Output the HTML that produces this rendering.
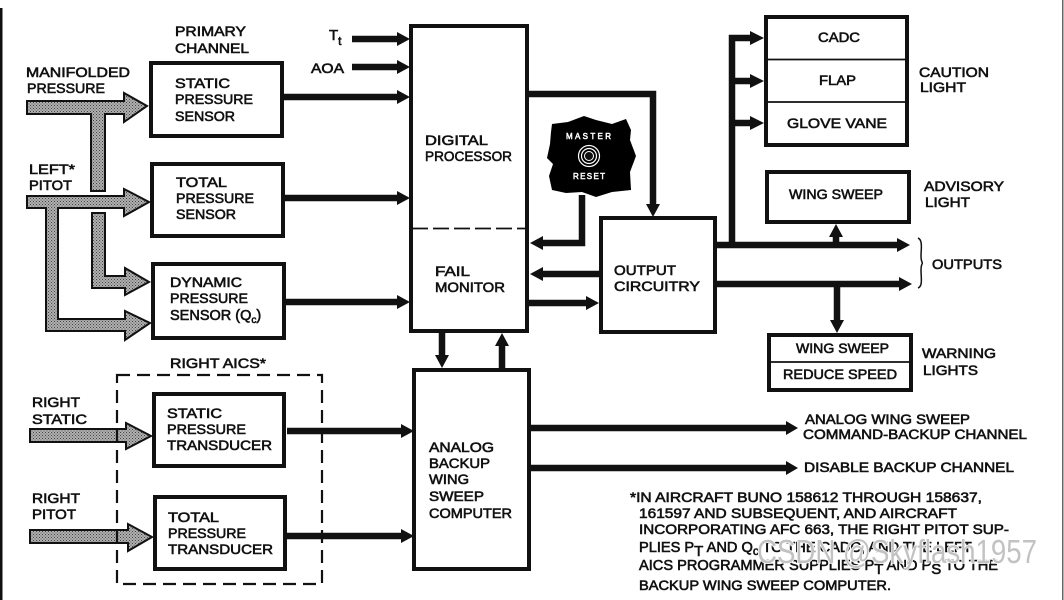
<!DOCTYPE html>
<html><head><meta charset="utf-8"><style>
html,body{margin:0;padding:0;background:#fff;width:1064px;height:600px;overflow:hidden}
svg{display:block}
text{font-family:"Liberation Sans",sans-serif;font-size:14px;fill:#111;stroke:#111;stroke-width:.6px}
.s{font-size:9px;stroke-width:.5px}
.w{font-family:"Liberation Sans","Noto Sans CJK SC",sans-serif;font-size:33px;fill:#c2c2c2;stroke:none;font-weight:400}
</style></head><body>
<svg width="1064" height="600" viewBox="0 0 1064 600" xmlns="http://www.w3.org/2000/svg">
<defs>
<pattern id="h" width="3" height="3" patternUnits="userSpaceOnUse">
<rect width="3" height="3" fill="#b0b0b0"/><rect width="1" height="1" fill="#444"/><rect x="1.5" y="1.5" width="1" height="1" fill="#555"/>
</pattern>
</defs>
<rect width="1064" height="600" fill="#fff"/>
<rect x="0" y="8" width="2.5" height="592" fill="#111"/>
<rect x="1062" y="0" width="1.5" height="600" fill="#666"/>

<!-- hatched arrows -->
<g fill="url(#h)" stroke="#111" stroke-width="2">
<path d="M27 101H124V93L147 106L124 122V114H105V191H91V114H27Z"/>
<path d="M92 213H105V276H125V268L149 282L125 295V288H92Z"/>
<path d="M27 196H124V189L149 202L124 216V208H58V319H125V311L150 323L125 340V331H46V208H27Z"/>
<path d="M30 429H126V423L151 436L126 449V442H30Z"/>
<path d="M30 530H128V524L152 537L128 551V543H30Z"/>
</g>

<!-- dashed box -->
<rect x="117" y="375" width="205" height="209" fill="none" stroke="#111" stroke-width="2.2" stroke-dasharray="13 7"/>

<!-- connectors -->
<g stroke="#111" stroke-width="6.500" fill="none">
<path d="M352 39H400M352 67H400M283 97H400M284 198H400M285 302H400"/>
<path d="M287 431H404M287 536H404"/>
<path d="M528 94H653V206"/>
<path d="M582 195V243H538"/>
<path d="M599 274H538M529 303H590"/>
<path d="M442 333V358M502 345V368"/>
<path d="M716 245H900M716 284H902"/>
<path d="M732 245V38H754M732 81H754M732 123H754"/>
<path d="M836 245V233M837 284V322"/>
<path d="M530 428H788M530 468H788"/>
</g>
<g fill="#111">
<path d="M397 32L410 39L397 46ZM397 60L410 67L397 74ZM397 90L410 97L397 104ZM397 191L410 198L397 205ZM397 295L410 302L397 309Z"/>
<path d="M401 424L414 431L401 438ZM401 529L414 536L401 543Z"/>
<path d="M646 204H660L653 217Z"/>
<path d="M543 236L530 243L543 250ZM543 267L530 274L543 281Z"/>
<path d="M586 296L599 303L586 310Z"/>
<path d="M435 355H449L442 368ZM495 346H509L502 333Z"/>
<path d="M897 238L910 245L897 252ZM899 277L912 284L899 291Z"/>
<path d="M750 31L764 38L750 45ZM750 74L764 81L750 88ZM750 116L764 123L750 130Z"/>
<path d="M829 237H843L836 224ZM830 320H844L837 333Z"/>
<path d="M786 421L798 428L786 435ZM786 461L798 468L786 475Z"/>
</g>

<!-- boxes -->
<g fill="#fff" stroke="#111" stroke-width="4">
<rect x="151" y="63" width="131" height="73"/>
<rect x="152" y="164" width="131" height="72"/>
<rect x="153" y="264" width="131" height="74"/>
<rect x="154" y="394" width="130" height="72"/>
<rect x="155" y="497" width="130" height="72"/>
<rect x="411" y="26" width="116" height="305"/>
<rect x="601" y="218" width="114" height="114"/>
<rect x="414" y="370" width="115" height="199"/>
<rect x="766" y="17" width="141" height="128"/>
<rect x="767" y="172" width="142" height="50"/>
<rect x="769" y="335" width="142" height="55"/>
</g>
<path d="M412 228.500H526" stroke="#111" stroke-width="1.800" stroke-dasharray="16 5" fill="none"/>
<path d="M767 59.500H906M767 102H906M770 362H910" stroke="#111" stroke-width="1.800" fill="none"/>
<path d="M918 238C923 240 921 250 921 256C921 260 922 263 923 263C922 263 921 266 921 270C921 278 923 286 918 288" stroke="#111" stroke-width="1.500" fill="none"/>

<!-- master reset -->
<path d="M552 124L568 122L584 116L596 120L612 124L626 119L631 130L630 140L636 156L630 172L631 190L612 192L596 197L582 192L566 193L552 190L549 176L553 164L547 158L550 144L551 132Z" fill="#000"/>
<circle cx="589" cy="156" r="10.500" fill="none" stroke="#fff" stroke-width="1.200"/>
<circle cx="589" cy="156" r="7.500" fill="none" stroke="#fff" stroke-width="1.200"/>
<circle cx="589" cy="156" r="4.500" fill="#111" stroke="#fff" stroke-width="1"/>
<text class="s" x="566" y="139" textLength="45" lengthAdjust="spacing" style="fill:#fff;stroke:#fff;font-size:8px">MASTER</text>
<text class="s" x="573" y="179" textLength="32" lengthAdjust="spacing" style="fill:#fff;stroke:#fff;font-size:8px">RESET</text>

<!-- labels -->
<g>
<text x="175" y="36" textLength="71" lengthAdjust="spacingAndGlyphs">PRIMARY</text>
<text x="175" y="53" textLength="74" lengthAdjust="spacingAndGlyphs">CHANNEL</text>
<text x="26" y="77" textLength="104" lengthAdjust="spacingAndGlyphs">MANIFOLDED</text>
<text x="27" y="93" textLength="78" lengthAdjust="spacingAndGlyphs">PRESSURE</text>
<text x="175" y="88" textLength="55" lengthAdjust="spacingAndGlyphs">STATIC</text>
<text x="175" y="104" textLength="78" lengthAdjust="spacingAndGlyphs">PRESSURE</text>
<text x="175" y="121" textLength="60" lengthAdjust="spacingAndGlyphs">SENSOR</text>
<text x="29" y="174" textLength="46" lengthAdjust="spacingAndGlyphs">LEFT*</text>
<text x="29" y="190" textLength="43" lengthAdjust="spacingAndGlyphs">PITOT</text>
<text x="176" y="187" textLength="51" lengthAdjust="spacingAndGlyphs">TOTAL</text>
<text x="176" y="203" textLength="78" lengthAdjust="spacingAndGlyphs">PRESSURE</text>
<text x="176" y="219" textLength="60" lengthAdjust="spacingAndGlyphs">SENSOR</text>
<text x="170" y="287" textLength="72" lengthAdjust="spacingAndGlyphs">DYNAMIC</text>
<text x="170" y="303" textLength="78" lengthAdjust="spacingAndGlyphs">PRESSURE</text>
<text x="170" y="320" style="font-size:14.500px">SENSOR (Q<tspan font-size="10" dy="3">c</tspan><tspan dy="-3">)</tspan></text>
<text x="329" y="40" style="font-size:15px">T<tspan font-size="12" dy="5">t</tspan></text>
<text x="311" y="73" textLength="33" lengthAdjust="spacingAndGlyphs">AOA</text>
<text x="425" y="145" textLength="63" lengthAdjust="spacingAndGlyphs">DIGITAL</text>
<text x="425" y="161" textLength="87" lengthAdjust="spacingAndGlyphs">PROCESSOR</text>
<text x="435" y="276" textLength="35" lengthAdjust="spacingAndGlyphs">FAIL</text>
<text x="435" y="292" textLength="70" lengthAdjust="spacingAndGlyphs">MONITOR</text>
<text x="614" y="275" textLength="62" lengthAdjust="spacingAndGlyphs">OUTPUT</text>
<text x="614" y="291" textLength="86" lengthAdjust="spacingAndGlyphs">CIRCUITRY</text>
<text x="818" y="42" textLength="42" lengthAdjust="spacingAndGlyphs">CADC</text>
<text x="819" y="85" textLength="37" lengthAdjust="spacingAndGlyphs">FLAP</text>
<text x="787" y="128" textLength="100" lengthAdjust="spacingAndGlyphs">GLOVE VANE</text>
<text x="919" y="77" textLength="70" lengthAdjust="spacingAndGlyphs">CAUTION</text>
<text x="920" y="92" textLength="46" lengthAdjust="spacingAndGlyphs">LIGHT</text>
<text x="789" y="199" textLength="94" lengthAdjust="spacingAndGlyphs">WING SWEEP</text>
<text x="924" y="191" textLength="80" lengthAdjust="spacingAndGlyphs">ADVISORY</text>
<text x="925" y="207" textLength="45" lengthAdjust="spacingAndGlyphs">LIGHT</text>
<text x="932" y="269" textLength="70" lengthAdjust="spacingAndGlyphs">OUTPUTS</text>
<text x="796" y="353" textLength="93" lengthAdjust="spacingAndGlyphs">WING SWEEP</text>
<text x="783" y="379" textLength="114" lengthAdjust="spacingAndGlyphs">REDUCE SPEED</text>
<text x="922" y="358" textLength="74" lengthAdjust="spacingAndGlyphs">WARNING</text>
<text x="923" y="375" textLength="55" lengthAdjust="spacingAndGlyphs">LIGHTS</text>
<text x="170" y="368" textLength="96" lengthAdjust="spacingAndGlyphs">RIGHT AICS*</text>
<text x="32" y="407" textLength="48" lengthAdjust="spacingAndGlyphs">RIGHT</text>
<text x="32" y="424" textLength="55" lengthAdjust="spacingAndGlyphs">STATIC</text>
<text x="32" y="503" textLength="48" lengthAdjust="spacingAndGlyphs">RIGHT</text>
<text x="32" y="519" textLength="44" lengthAdjust="spacingAndGlyphs">PITOT</text>
<text x="167" y="418" textLength="55" lengthAdjust="spacingAndGlyphs">STATIC</text>
<text x="167" y="434" textLength="79" lengthAdjust="spacingAndGlyphs">PRESSURE</text>
<text x="167" y="450" textLength="105" lengthAdjust="spacingAndGlyphs">TRANSDUCER</text>
<text x="168" y="522" textLength="51" lengthAdjust="spacingAndGlyphs">TOTAL</text>
<text x="168" y="538" textLength="78" lengthAdjust="spacingAndGlyphs">PRESSURE</text>
<text x="168" y="554" textLength="105" lengthAdjust="spacingAndGlyphs">TRANSDUCER</text>
<text x="429" y="452" textLength="65" lengthAdjust="spacingAndGlyphs">ANALOG</text>
<text x="429" y="468" textLength="61" lengthAdjust="spacingAndGlyphs">BACKUP</text>
<text x="429" y="484" textLength="40" lengthAdjust="spacingAndGlyphs">WING</text>
<text x="429" y="501" textLength="55" lengthAdjust="spacingAndGlyphs">SWEEP</text>
<text x="429" y="518" textLength="83" lengthAdjust="spacingAndGlyphs">COMPUTER</text>
<text x="805" y="424" textLength="165" lengthAdjust="spacingAndGlyphs">ANALOG WING SWEEP</text>
<text x="803" y="439" textLength="224" lengthAdjust="spacingAndGlyphs">COMMAND-BACKUP CHANNEL</text>
<text x="804" y="472" textLength="210" lengthAdjust="spacingAndGlyphs">DISABLE BACKUP CHANNEL</text>
<text x="630" y="502" textLength="352" lengthAdjust="spacingAndGlyphs">*IN AIRCRAFT BUNO 158612 THROUGH 158637,</text>
<text x="639" y="518" textLength="318" lengthAdjust="spacingAndGlyphs">161597 AND SUBSEQUENT, AND AIRCRAFT</text>
<text x="639" y="534" textLength="370" lengthAdjust="spacingAndGlyphs">INCORPORATING AFC 663, THE RIGHT PITOT SUP-</text>
<text x="639" y="552" style="font-size:14.600px">PLIES P<tspan font-size="15" dy="4">T</tspan><tspan dy="-4"> AND Q</tspan><tspan font-size="12" dy="3">c</tspan><tspan dy="-3"> TO THE CADC, AND THE LEFT</tspan></text>
<text x="639" y="570" style="font-size:14.600px">AICS PROGRAMMER SUPPLIES P<tspan font-size="15" dy="4">T</tspan><tspan dy="-4"> AND P</tspan><tspan font-size="15" dy="4">S</tspan><tspan dy="-4"> TO THE</tspan></text>
<text x="639" y="590" textLength="252" lengthAdjust="spacingAndGlyphs">BACKUP WING SWEEP COMPUTER.</text>
</g>

<!-- watermark -->
<text class="w" x="757" y="563" textLength="280" lengthAdjust="spacingAndGlyphs" style="paint-order:stroke;stroke:#fff;stroke-width:1.500px">CSDN @Skyflash1957</text>
</svg>
</body></html>
